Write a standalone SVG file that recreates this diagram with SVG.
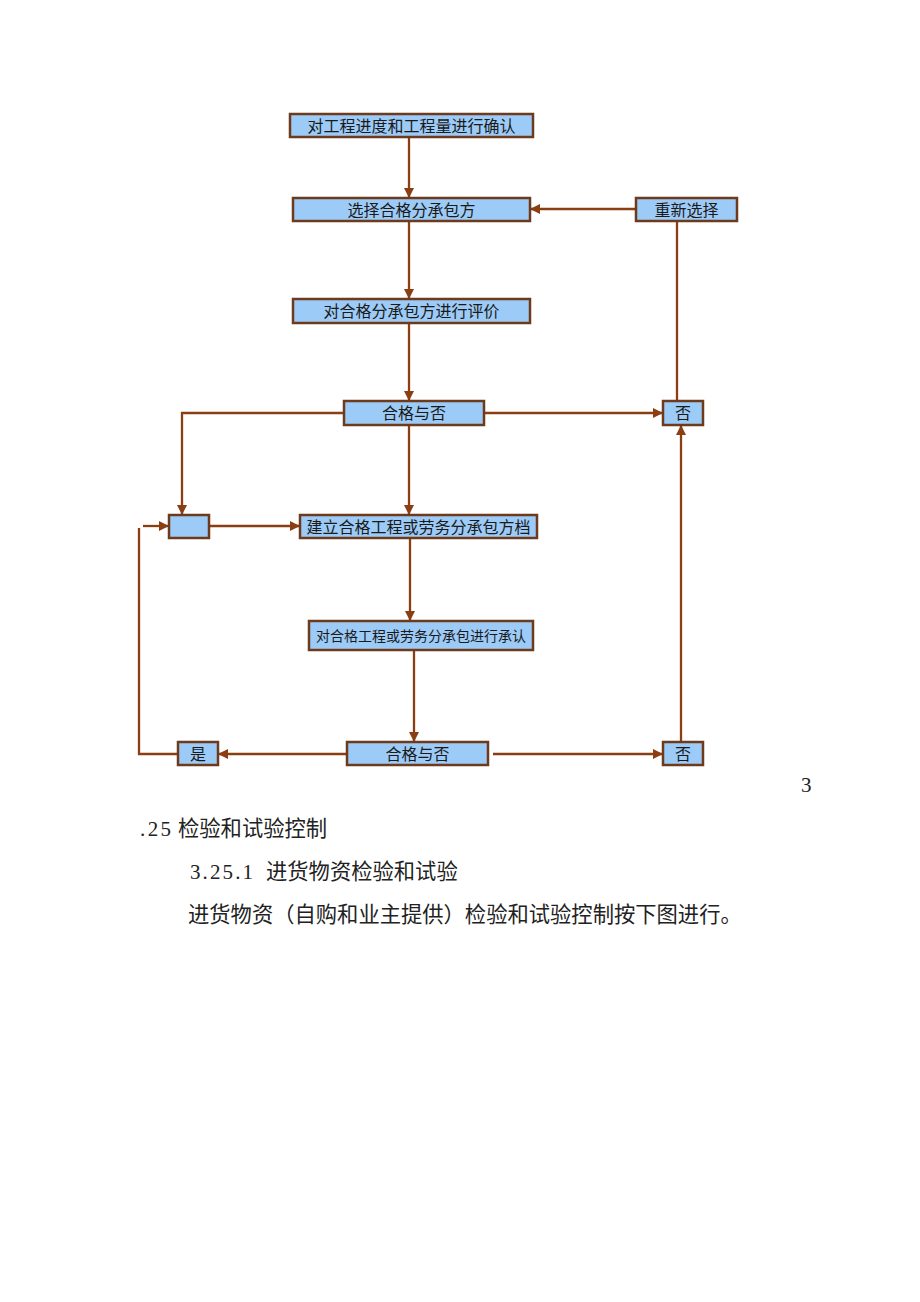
<svg xmlns="http://www.w3.org/2000/svg" width="920" height="1302" viewBox="0 0 920 1302">
<style>
.box{fill:#9DCBF7;stroke:#6E3A1C;stroke-width:2.5}
.lbl{font-family:"Noto Sans CJK SC","Noto Sans CJK TC",sans-serif;font-size:16px;fill:#1a1a1a;text-anchor:middle}
.sm{font-size:14px}
.ln{fill:none;stroke:#8B3E12;stroke-width:2.3}
.arr{marker-end:url(#ah)}
.body{font-family:"Noto Sans CJK SC",sans-serif;font-size:21.3px;fill:#222}
.num{font-family:"Liberation Serif",serif;font-size:21px;fill:#222}
</style>
<defs>
<marker id="ah" markerUnits="userSpaceOnUse" markerWidth="10" markerHeight="10" viewBox="0 0 10 10" refX="10" refY="5" orient="auto">
<path d="M0,0 L10,5 L0,10 z" fill="#8B3E12"/>
</marker>
</defs>
<rect width="920" height="1302" fill="#ffffff"/>
<g id="connectors">
<path class="ln arr" d="M409,137 V198"/>
<path class="ln arr" d="M636,209 H530"/>
<path class="ln arr" d="M409,221 V299"/>
<path class="ln" d="M677,221 V401"/>
<path class="ln arr" d="M409,323 V401"/>
<path class="ln arr" d="M484,413 H663"/>
<path class="ln arr" d="M344,413 H182 V515"/>
<path class="ln arr" d="M409,425 V515"/>
<path class="ln arr" d="M209,526 H300"/>
<path class="ln arr" d="M410,538 V621"/>
<path class="ln arr" d="M414,650 V742"/>
<path class="ln arr" d="M347,754 H218"/>
<path class="ln" d="M178,754 H139 V528"/>
<path class="ln arr" d="M143,526 H169"/>
<path class="ln arr" d="M493,754 H663"/>
<path class="ln arr" d="M681,742 V425"/>
</g>
<g id="n1"><rect class="box" x="290" y="114" width="243" height="23"/><text class="lbl" x="411.5" y="131.5">对工程进度和工程量进行确认</text></g>
<g id="n2"><rect class="box" x="293" y="198" width="237" height="23"/><text class="lbl" x="411.5" y="215.5">选择合格分承包方</text></g>
<g id="n3"><rect class="box" x="636" y="198" width="101" height="23"/><text class="lbl" x="686.5" y="215.5">重新选择</text></g>
<g id="n4"><rect class="box" x="293" y="299" width="237" height="24"/><text class="lbl" x="411.5" y="317">对合格分承包方进行评价</text></g>
<g id="n5"><rect class="box" x="344" y="401" width="140" height="24"/><text class="lbl" x="414" y="419">合格与否</text></g>
<g id="n6"><rect class="box" x="663" y="401" width="40" height="24"/><text class="lbl" x="683" y="419">否</text></g>
<g id="n7"><rect class="box" x="169" y="515" width="40" height="23"/></g>
<g id="n8"><rect class="box" x="300" y="515" width="237" height="23"/><text class="lbl" x="418.5" y="532.5">建立合格工程或劳务分承包方档</text></g>
<g id="n9"><rect class="box" x="309" y="621" width="224" height="29"/><text class="lbl sm" x="421" y="641">对合格工程或劳务分承包进行承认</text></g>
<g id="n10"><rect class="box" x="347" y="742" width="141" height="23"/><text class="lbl" x="417.5" y="759.5">合格与否</text></g>
<g id="n11"><rect class="box" x="178" y="742" width="40" height="23"/><text class="lbl" x="198" y="759.5">是</text></g>
<g id="n12"><rect class="box" x="663" y="742" width="40" height="23"/><text class="lbl" x="683" y="759.5">否</text></g>
<text class="num" x="801" y="792">3</text>
<text class="num" x="140" y="836" textLength="31" lengthAdjust="spacing">.25</text>
<text class="body" x="178" y="836">检验和试验控制</text>
<text class="num" x="190" y="879" textLength="63" lengthAdjust="spacing">3.25.1</text>
<text class="body" x="266" y="879">进货物资检验和试验</text>
<text class="body" x="188" y="922">进货物资（自购和业主提供）检验和试验控制按下图进行。</text>
</svg>
